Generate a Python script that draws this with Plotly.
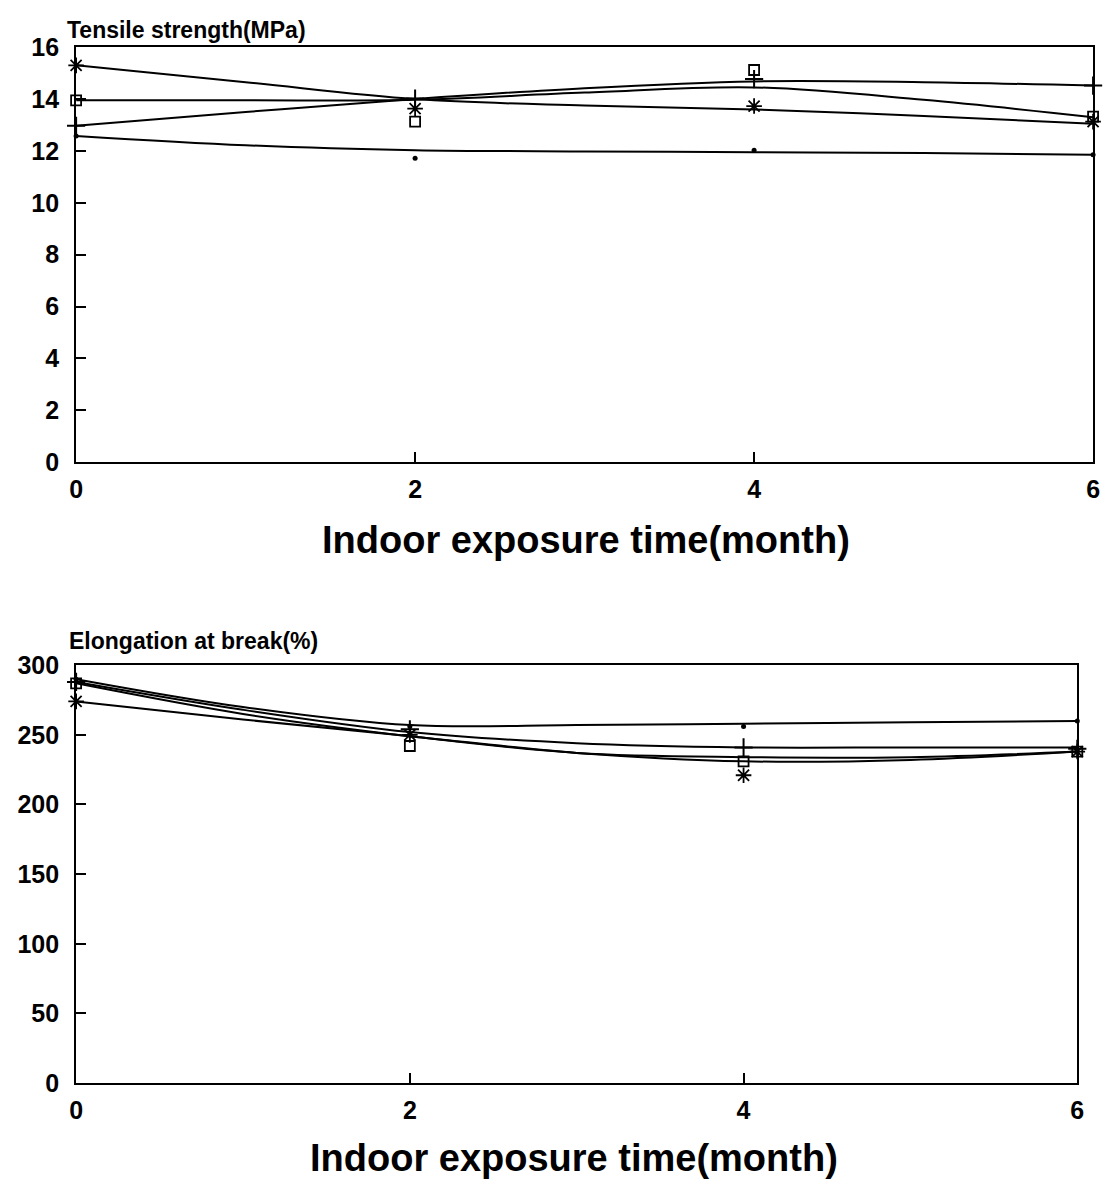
import plotly.graph_objects as go

# Exposure months at which samples were tested
months = [0, 2, 4, 6]
# Positions along the smoothed trend curves
curve_months = [0, 1, 2, 3, 4, 5, 6]

# Tensile strength (MPa) - measured points
ts_star = [15.3, 13.63, 13.73, 13.13]
ts_square = [13.95, 13.13, 15.12, 13.32]
ts_plus = [12.97, 14.02, 14.77, 14.52]
ts_dot = [12.58, 11.72, 12.03, 11.85]

# Tensile strength (MPa) - trend curves
ts_star_curve = [15.3, 14.65, 14.0, 13.75, 13.6, 13.35, 13.05]
ts_square_curve = [13.95, 13.95, 13.97, 14.25, 14.45, 13.97, 13.3]
ts_plus_curve = [12.97, 13.5, 14.0, 14.42, 14.68, 14.65, 14.52]
ts_dot_curve = [12.58, 12.22, 12.03, 11.98, 11.95, 11.92, 11.85]

# Elongation at break (%) - measured points
el_star = [274, 250, 221, 238]
el_square = [287, 242, 231, 238]
el_plus = [288, 254, 241, 240]
el_dot = [290, 256, 256, 260]

# Elongation at break (%) - trend curves
el_star_curve = [274, 261, 249, 237, 231, 232, 238]
el_square_curve = [287, 265, 249, 237, 234, 234, 238]
el_plus_curve = [288, 268, 252, 244, 241, 241, 241]
el_dot_curve = [290, 270, 257, 257, 258, 259, 260]

x_ticks = [0, 2, 4, 6]
ts_ticks = [0, 2, 4, 6, 8, 10, 12, 14, 16]
el_ticks = [0, 50, 100, 150, 200, 250, 300]

W, H = 1107, 1182
FONT = "Liberation Sans"

marker_styles = {
    "star": dict(symbol="asterisk-open", size=13, color="black", line=dict(color="black", width=1.8)),
    "square": dict(symbol="square-open", size=10, color="black", line=dict(color="black", width=1.8)),
    "plus": dict(symbol="cross-thin-open", size=13, color="black", line=dict(color="black", width=2)),
    "dot": dict(symbol="circle", size=5, color="black", line=dict(width=0)),
}

fig = go.Figure()


def add_panel(points, curves, xa, ya):
    for name, ys in curves.items():
        fig.add_trace(go.Scatter(
            x=curve_months, y=ys, mode="lines",
            line=dict(color="black", width=2, shape="spline", smoothing=1.0),
            xaxis=xa, yaxis=ya, hoverinfo="skip",
        ))
    for name, ys in points.items():
        fig.add_trace(go.Scatter(
            x=months, y=ys, mode="markers",
            marker=marker_styles[name], cliponaxis=False,
            xaxis=xa, yaxis=ya,
        ))


add_panel(
    {"star": ts_star, "square": ts_square, "plus": ts_plus, "dot": ts_dot},
    {"star": ts_star_curve, "square": ts_square_curve, "plus": ts_plus_curve, "dot": ts_dot_curve},
    "x", "y",
)
add_panel(
    {"star": el_star, "square": el_square, "plus": el_plus, "dot": el_dot},
    {"star": el_star_curve, "square": el_square_curve, "plus": el_plus_curve, "dot": el_dot_curve},
    "x2", "y2",
)

tick_font = dict(family=FONT, size=25, color="black", weight="bold")
axis_common = dict(
    showline=True, mirror=True, linecolor="black", linewidth=2,
    showgrid=False, zeroline=False, ticks="inside", ticklen=10,
    tickwidth=1.5, tickcolor="black", tickfont=tick_font,
)


def px_x(p):
    return p / W


def px_y(p):
    return 1 - p / H


fig.update_layout(
    width=W, height=H,
    margin=dict(l=0, r=0, t=0, b=0),
    paper_bgcolor="white", plot_bgcolor="white",
    showlegend=False,
    xaxis=dict(axis_common, domain=[px_x(70), px_x(1100)], range=[0, 6],
               tickvals=x_ticks, anchor="y", ticklabelstandoff=4),
    yaxis=dict(axis_common, domain=[px_y(459), px_y(34)], range=[0, 16],
               tickvals=ts_ticks, anchor="x", ticklabelstandoff=10),
    xaxis2=dict(axis_common, domain=[px_x(70), px_x(1084)], range=[0, 6],
                tickvals=x_ticks, anchor="y2", ticklabelstandoff=4),
    yaxis2=dict(axis_common, domain=[px_y(1095), px_y(667)], range=[0, 300],
                tickvals=el_ticks, anchor="x2", ticklabelstandoff=10),
)

title_font = dict(family=FONT, size=38, color="black", weight="bold")
label_font = dict(family=FONT, size=23, color="black", weight="bold")

fig.add_annotation(text="Tensile strength(MPa)", x=px_x(59), y=px_y(16),
                   xref="paper", yref="paper", xanchor="left", yanchor="middle",
                   showarrow=False, font=label_font)
fig.add_annotation(text="Elongation at break(%)", x=px_x(61), y=px_y(642),
                   xref="paper", yref="paper", xanchor="left", yanchor="middle",
                   showarrow=False, font=label_font)
fig.add_annotation(text="Indoor exposure time(month)", x=px_x(586), y=px_y(539),
                   xref="paper", yref="paper", xanchor="center", yanchor="middle",
                   showarrow=False, font=title_font)
fig.add_annotation(text="Indoor exposure time(month)", x=px_x(574), y=px_y(1172),
                   xref="paper", yref="paper", xanchor="center", yanchor="middle",
                   showarrow=False, font=title_font)

fig.write_html("out.html")
